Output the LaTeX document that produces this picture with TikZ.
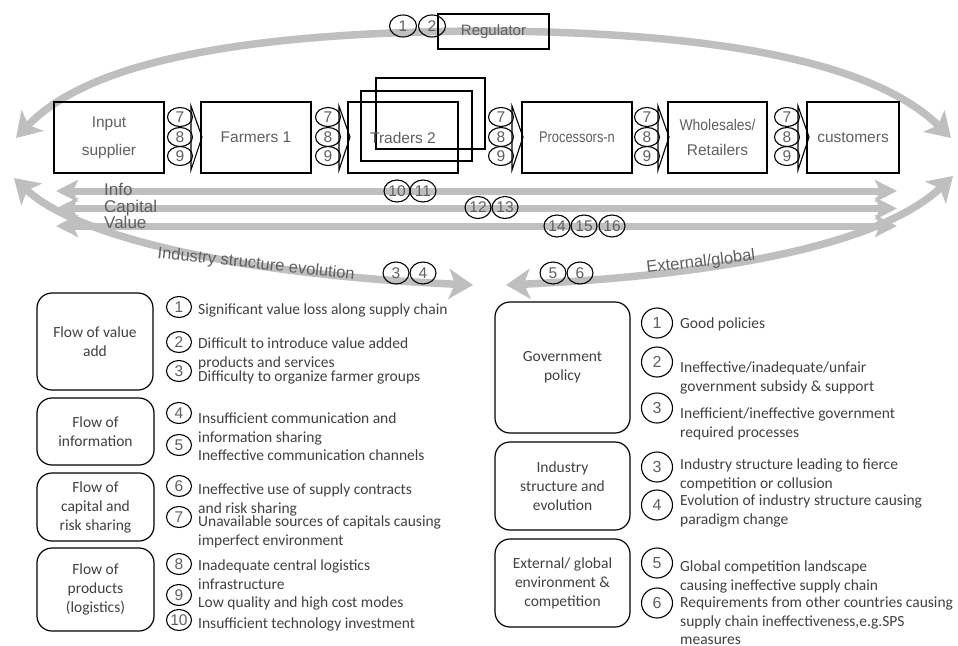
\documentclass[tikz,border=0pt]{standalone}
\usepackage{fontspec}
\setmainfont{Carlito}
\newfontfamily\arialf{Liberation Sans}
\usetikzlibrary{arrows.meta,shapes.geometric}
\definecolor{ag}{RGB}{191,191,191}
\definecolor{txt}{RGB}{64,64,64}
\definecolor{ctxt}{RGB}{95,95,95}
\begin{document}
\begin{tikzpicture}[x=1pt,y=-1pt,
  bigtip/.tip={Stealth[length=24pt,width=30pt,inset=6pt]},
  flowtip/.tip={Stealth[length=22pt,width=22pt,inset=5pt]},
  garc/.style={draw=ag,line width=7.5pt,bigtip-bigtip},
  gflow/.style={draw=ag,line width=7pt,flowtip-flowtip},
  chainbox/.style={draw=black,line width=1.2pt,minimum height=71pt,inner sep=0pt,
    font=\arialf\fontsize{15.5}{28}\selectfont,text=ctxt,align=center},
  num/.style={ellipse,draw=black,line width=1.1pt,inner sep=0pt,
    font=\arialf\fontsize{15.5}{15.5}\selectfont,text=ctxt},
  cnum/.style={num,minimum width=25pt,minimum height=19pt},
  fnum/.style={num,minimum width=26pt,minimum height=22pt},
  lnum/.style={num,minimum width=25pt,minimum height=21pt},
  rnum/.style={num,minimum width=31pt,minimum height=30pt,font=\arialf\fontsize{16}{16}\selectfont},
  chev/.style={draw=black,line width=1.1pt},
  flowlbl/.style={anchor=base west,inner sep=0pt,font=\arialf\fontsize{17}{17}\selectfont,text=ctxt},
  cat/.style={draw=black,line width=1.2pt,rounded corners=15pt,inner sep=0pt,
    font=\fontsize{15.5}{19}\selectfont,text=txt,align=center},
  ltxt/.style={anchor=west,inner sep=0pt,align=left,font=\fontsize{15.5}{19}\selectfont,text=txt},
  curvelbl/.style={anchor=base west,inner sep=0pt,font=\arialf\fontsize{16.5}{16.5}\selectfont,text=ctxt}
]
\useasboundingbox (0,0) rectangle (958,645);

% big arcs
\draw[garc] (16,138) .. controls (90,60) and (250,32) .. (485,31)
            .. controls (700,32) and (870,58) .. (951,138);
\draw[garc] (14,178) .. controls (80,240) and (250,275) .. (473,285);
\draw[garc] (506,285) .. controls (720,275) and (880,245) .. (953,176);

% flow lines
\coordinate (iL) at (56,191);   \coordinate (iR) at (897,191);
\coordinate (cL) at (56,208.5); \coordinate (cR) at (897,208.5);
\coordinate (vL) at (56,226);   \coordinate (vR) at (897,226);
\draw[gflow] (iL) -- (iR);
\draw[gflow] (cL) -- (cR);
\draw[gflow] (vL) -- (vR);
\node[flowlbl] (info) at (104,195) {Info};
\node[flowlbl] (capital) at (104,212) {Capital};
\node[flowlbl] (value) at (104,228) {Value};

% regulator
\node[draw=black,line width=1.2pt,minimum width=111pt,minimum height=35pt,inner sep=0pt,
  font=\arialf\fontsize{15}{15}\selectfont,text=ctxt] (reg) at (493.5,31.5) {Regulator};
\node[num,minimum width=27pt,minimum height=22pt] (r1) at (403,26) {1};
\node[num,minimum width=27pt,minimum height=22pt] (r2) at (432,26) {2};

% chain boxes
\node[chainbox,minimum width=110pt] (inp) at (109,137.5) {Input\\supplier};
\node[chainbox,minimum width=110pt] (farm) at (256,137.5) {Farmers 1};
\draw[line width=1.2pt] (376,78) rectangle (485,149);
\draw[line width=1.2pt] (361,91) rectangle (472,161);
\node[chainbox,minimum width=110pt] (trad) at (403,137.5) {Traders 2};
\node[chainbox,minimum width=110pt] (proc) at (577,137.5) {\scalebox{0.83}[1]{Processors-n}};
\node[chainbox,minimum width=99pt,font=\arialf\fontsize{15.5}{25}\selectfont] (whol) at (717.5,137.5) {\scalebox{0.9}[1]{Wholesales/}\\Retailers};
\node[chainbox,minimum width=92pt] (cust) at (853,137.5) {customers};

% chevrons with 7 8 9
\foreach \x/\n in {191/a,339/b,512/c,658/d,798/e}{
  \draw[chev] (\x,106) -- (\x+11,137) -- (\x,170) -- cycle;
  \node[cnum] (\n7) at (\x-11,117) {7};
  \node[cnum] (\n8) at (\x-11,137) {8};
  \node[cnum] (\n9) at (\x-11,156) {9};
}

% flow circles
\node[fnum] (f10) at (397,191) {10};
\node[fnum] (f11) at (423,191) {11};
\node[fnum] (f12) at (478,207.5) {12};
\node[fnum] (f13) at (505,207.5) {13};
\node[fnum] (f14) at (557,226) {14};
\node[fnum] (f15) at (584,226) {15};
\node[fnum] (f16) at (612,226) {16};
\node[fnum] (e3) at (396,273) {3};
\node[fnum] (e4) at (423,273) {4};
\node[fnum] (e5) at (553,273) {5};
\node[fnum] (e6) at (580,273) {6};

\node[curvelbl,rotate=-6.2] (ise) at (157,258) {Industry structure evolution};
\node[curvelbl,rotate=6.6] (ext) at (647,273) {External/global};

% left categories
\node[cat,minimum width=116pt,minimum height=97pt] (cv) at (95,341.5) {Flow of value\\add};
\node[cat,minimum width=117pt,minimum height=67pt] (ci) at (95.5,431.5) {Flow of\\information};
\node[cat,minimum width=117pt,minimum height=68pt] (cc) at (95.5,507) {Flow of\\capital and\\risk sharing};
\node[cat,minimum width=117pt,minimum height=83pt] (cp) at (95.5,589.5) {Flow of\\products\\(logistics)};

\foreach \n/\y in {1/307,2/342,3/371,4/413,5/445,6/486,7/517,8/564,9/595,10/620}{
  \node[lnum] (ln\n) at (179,\y) {\n};
}
\node[ltxt] (l1) at (198,310) {Significant value loss along supply chain};
\node[ltxt] (l2) at (198,353.5) {Difficult to introduce value added\\products and services};
\node[ltxt] (l3) at (198,377) {Difficulty to organize farmer groups};
\node[ltxt] (l4) at (198,428.5) {Insufficient communication and\\information sharing};
\node[ltxt] (l5) at (198,455) {Ineffective communication channels};
\node[ltxt] (l6) at (198,499.5) {Ineffective use of supply contracts\\and risk sharing};
\node[ltxt] (l7) at (198,531.5) {Unavailable sources of capitals causing\\imperfect environment};
\node[ltxt] (l8) at (198,575) {Inadequate central logistics\\infrastructure};
\node[ltxt] (l9) at (198,603) {Low quality and high cost modes};
\node[ltxt] (l10) at (198,624) {Insufficient technology investment};

% right categories
\node[cat,minimum width=135pt,minimum height=131pt] (gp) at (562.5,367.5) {Government\\policy};
\node[cat,minimum width=135pt,minimum height=88pt] (is) at (562.5,486) {Industry\\structure and\\evolution};
\node[cat,minimum width=135pt,minimum height=88pt] (eg) at (562.5,583) {External/ global\\environment \&\\competition};

\node[rnum] (rn1) at (657,323) {1};
\node[rnum] (rn2) at (657,362) {2};
\node[rnum] (rn3) at (657,408) {3};
\node[rnum] (rn3b) at (657,467) {3};
\node[rnum] (rn4) at (657,505) {4};
\node[rnum] (rn5) at (657,563) {5};
\node[rnum] (rn6) at (657,603) {6};
\node[ltxt] (t1) at (680,324) {Good policies};
\node[ltxt] (t2) at (680,377.5) {Ineffective/inadequate/unfair\\government subsidy \& support};
\node[ltxt] (t3) at (680,423.5) {Inefficient/ineffective government\\required processes};
\node[ltxt] (t3b) at (680,475) {Industry structure leading to fierce\\competition or collusion};
\node[ltxt] (t4) at (680,510.5) {Evolution of industry structure causing\\paradigm change};
\node[ltxt] (t5) at (680,577) {Global competition landscape\\causing ineffective supply chain};
\node[ltxt,font=\fontsize{15.5}{18.5}\selectfont] (t6) at (680,621) {Requirements from other countries causing\\supply chain ineffectiveness,e.g.SPS\\measures};
\end{tikzpicture}
\end{document}
